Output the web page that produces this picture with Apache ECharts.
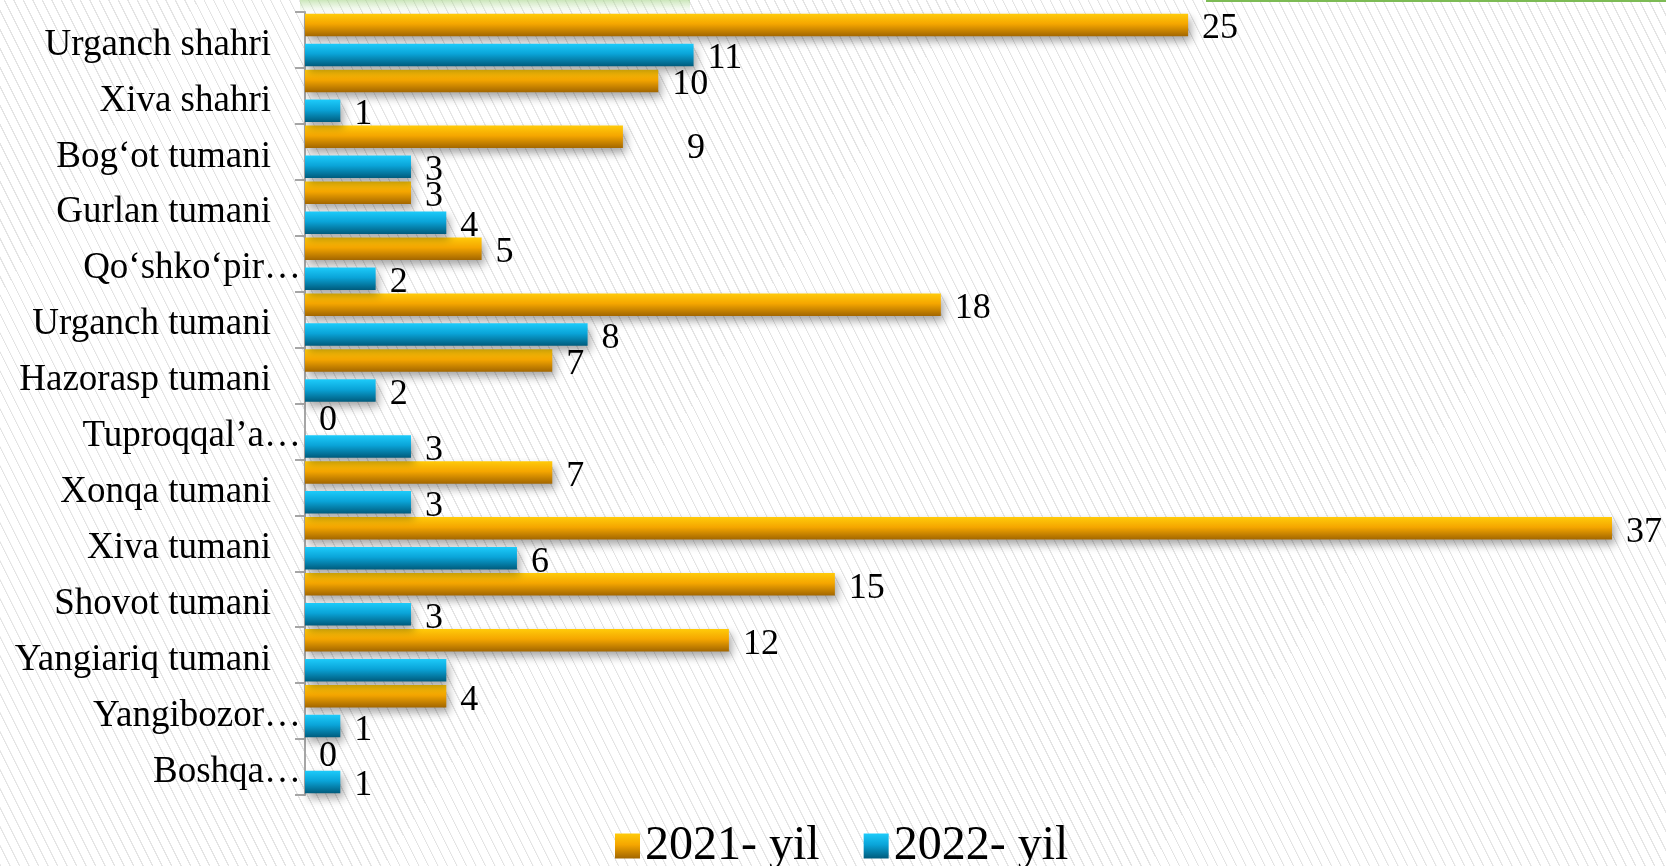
<!DOCTYPE html>
<html>
<head>
<meta charset="utf-8">
<script src="https://cdn.jsdelivr.net/npm/echarts@6/dist/echarts.min.js"></script>
<style>
html,body{margin:0;padding:0;}
body{background:#fff;}
#chart{width:1666px;height:866px;
background-color:#fff;
background-image:repeating-linear-gradient(63.4deg, #e4e4e4 0px, #e4e4e4 1px, rgba(255,255,255,0) 1.4px, rgba(255,255,255,0) 8.5px);}
</style>
</head>
<body>
<div id="chart"></div>
<script>
const categories = ["Urganch shahri","Xiva shahri","Bog‘ot tumani","Gurlan tumani","Qo‘shko‘pir…","Urganch tumani","Hazorasp tumani","Tuproqqal’a…","Xonqa tumani","Xiva tumani","Shovot tumani","Yangiariq tumani","Yangibozor…","Boshqa…"];
const values2021 = [25,10,9,3,5,18,7,0,7,37,15,12,4,0];
const values2022 = [11,1,3,4,2,8,2,3,3,6,3,4,1,1];
const seriesNames = ["2021- yil","2022- yil"];

// label tweaks (style only)
const labelTweaks2021 = {2:{offset:[50,12]}};
const labelTweaks2022 = {11:{show:false}};

const FONT = "'Liberation Serif','Times New Roman',serif";

function grad(top, mid, bottom){
  return new echarts.graphic.LinearGradient(0,0,0,1,[
    {offset:0,color:top},{offset:0.45,color:mid},{offset:1,color:bottom}]);
}
const orange = grad('#FFCB0A','#F5A600','#A26600');
const blue = grad('#1DCBFA','#0AA4D8','#005B7C');

function build(vals, tweaks){
  return vals.map((v,i)=> tweaks[i] ? {value:v, label:tweaks[i]} : v);
}

const valueLabel = {show:true, position:'right', distance:14, color:'#000', fontSize:36, fontFamily:FONT, offset:[0,4]};

const chart = echarts.init(document.getElementById('chart'), null, {renderer:'canvas'});
chart.setOption({
  backgroundColor:'transparent',
  animation:false,
  graphic:[
    {type:'rect', left:1206, top:0, shape:{width:460,height:2}, style:{fill:'#7DBB55'}, z:-1},
    {type:'rect', left:300, top:0, shape:{width:390,height:13},
     style:{fill:new echarts.graphic.LinearGradient(0,0,0,1,[{offset:0,color:'rgba(160,210,130,0.55)'},{offset:1,color:'rgba(200,230,180,0)'}])}, z:-1}
  ],
  grid:{left:305, top:12, width:1307, height:783, containLabel:false},
  xAxis:{type:'value', min:0, max:37, show:false, splitLine:{show:false}},
  yAxis:{type:'category', data:categories, inverse:true,
    axisLine:{show:true, lineStyle:{color:'#a6a6a6', width:2}},
    axisTick:{show:true, length:10, lineStyle:{color:'#a6a6a6', width:2}},
    axisLabel:{color:'#000', fontSize:37, fontFamily:FONT, margin:4,
      formatter:function(v){ return (v.slice(-1)==='…' ? '{e|' : '{n|') + v + '}'; },
      rich:{
        n:{fontSize:37, fontFamily:FONT, color:'#000', padding:[10,30,0,0]},
        e:{fontSize:37, fontFamily:FONT, color:'#000', padding:[10,0,0,0]}
      }
    }
  },
  legend:{
    left:610, top:817, itemWidth:25, itemHeight:25, itemGap:44, icon:'rect',
    textStyle:{fontSize:48, fontFamily:FONT, color:'#000'},
    data:seriesNames
  },
  series:[
    {name:seriesNames[0], type:'bar', data:build(values2021, labelTweaks2021),
     barWidth:22.5, barGap:'33%',
     itemStyle:{color:orange, shadowColor:'rgba(0,0,0,0.35)', shadowBlur:8, shadowOffsetX:3, shadowOffsetY:5},
     label:valueLabel
    },
    {name:seriesNames[1], type:'bar', data:build(values2022, labelTweaks2022),
     barWidth:22.5, barGap:'33%',
     itemStyle:{color:blue, shadowColor:'rgba(0,0,0,0.35)', shadowBlur:8, shadowOffsetX:3, shadowOffsetY:5},
     label:valueLabel
    }
  ]
});
</script>
</body>
</html>
